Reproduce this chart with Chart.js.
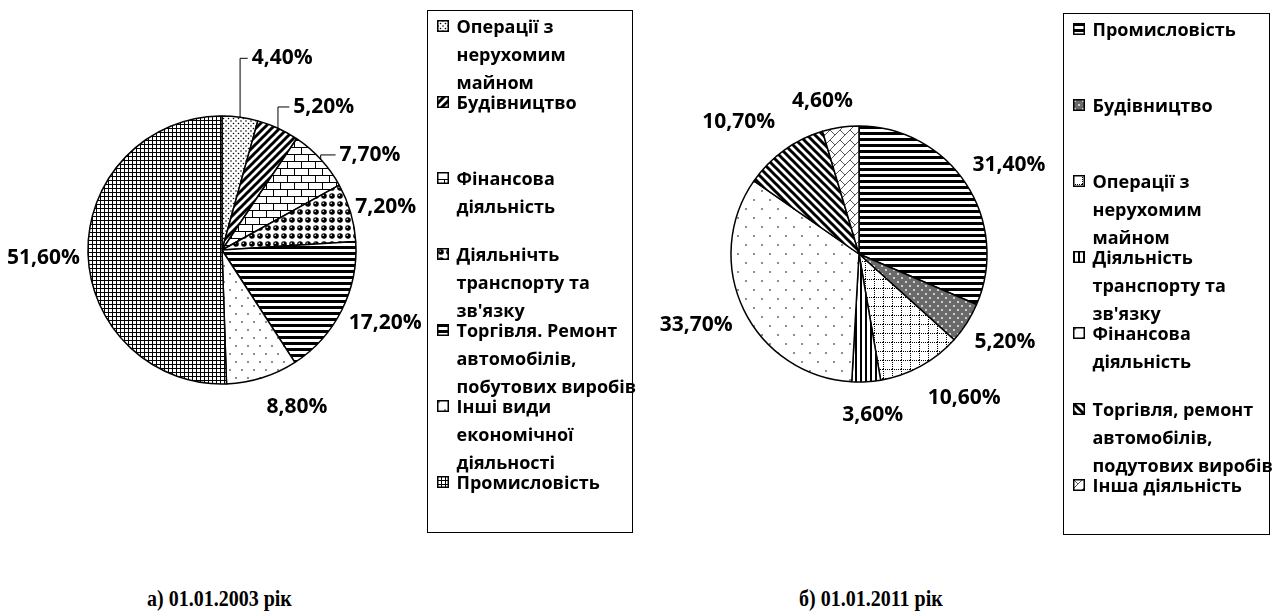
<!DOCTYPE html>
<html lang="uk">
<head>
<meta charset="utf-8">
<title>Структура за видами діяльності</title>
<script src="https://cdn.jsdelivr.net/npm/chart.js@4.4.1/dist/chart.umd.min.js"></script>
<style>
  html, body { margin: 0; padding: 0; background: #fff; }
  #page { position: relative; width: 1279px; height: 612px; overflow: hidden; font-family: "Open Sans", sans-serif; }
  .pie { position: absolute; top: 0; }
  .legend { position: absolute; border: 1.5px solid #000; box-sizing: border-box; }
  .item { position: absolute; left: 0; right: 0; font-weight: 700; font-size: 18px; line-height: 28px; white-space: nowrap; color: #000; }
  .item canvas { position: absolute; left: 8.5px; top: 8px; }
  .item .txt { position: absolute; left: 28.5px; top: 0; }
  .caption { position: absolute; font-family: "Liberation Serif", serif; font-weight: 700; font-size: 20px; line-height: 22px; transform: scaleY(1.12); transform-origin: left center; }
</style>
</head>
<body>
<div id="page">
  <canvas id="pie2003" class="pie" width="444" height="500" style="left:0"></canvas>
  <canvas id="pie2011" class="pie" width="438" height="508" style="left:640px"></canvas>
  <div id="legend2003" class="legend" style="left:427px; top:10px; width:206px; height:523px"></div>
  <div id="legend2011" class="legend" style="left:1063px; top:13px; width:207px; height:522px"></div>
  <div class="caption" style="left:147px; top:587px">а) 01.01.2003 рік</div>
  <div class="caption" style="left:799px; top:587px">б) 01.01.2011 рік</div>
</div>
<script>
// ==========================================
// 1. DATA
// ==========================================
// 01.01.2003 - slices clockwise from 12 o'clock
const labels2003 = [
    ['Операції з', 'нерухомим', 'майном'],
    ['Будівництво'],
    ['Фінансова', 'діяльність'],
    ['Діяльнічть', 'транспорту та', "зв'язку"],
    ['Торгівля. Ремонт', 'автомобілів,', 'побутових виробів'],
    ['Інші види', 'економічної', 'діяльності'],
    ['Промисловість']
];
const values2003 = [4.4, 5.2, 7.7, 7.2, 17.2, 8.8, 51.6];
const fills2003 = ['dots', 'wideUp', 'brick', 'spheres', 'wideHoriz', 'sparseDots', 'smallGrid'];

// 01.01.2011
const labels2011 = [
    ['Промисловість'],
    ['Будівництво'],
    ['Операції з', 'нерухомим', 'майном'],
    ['Діяльність', 'транспорту та', "зв'язку"],
    ['Фінансова', 'діяльність'],
    ['Торгівля, ремонт', 'автомобілів,', 'подутових виробів'],
    ['Інша діяльність']
];
const values2011 = [31.4, 5.2, 10.6, 3.6, 33.7, 10.7, 4.6];
const fills2011 = ['wideHoriz', 'darkDots', 'dottedGrid', 'vertLines', 'wideDots', 'wideDown', 'diagBrick'];

const fmt = v => v.toFixed(2).replace('.', ',') + '%';

// ==========================================
// 2. HATCH PATTERNS (Excel-like fills)
// ==========================================
function pattern(ctx, kind) {
    const sizes = {
        dots: [5, 5], wideUp: [8, 8], brick: [14, 14], spheres: [8, 8],
        wideHoriz: [2, 6], sparseDots: [12, 16], smallGrid: [4, 4],
        darkDots: [8, 8], dottedGrid: [9, 9], vertLines: [5, 2],
        wideDots: [16, 18], wideDown: [8, 8], diagBrick: [10, 10]
    };
    const [w, h] = sizes[kind];
    const c = document.createElement('canvas');
    c.width = w; c.height = h;
    const g = c.getContext('2d');
    g.fillStyle = '#fff';
    g.fillRect(0, 0, w, h);
    g.fillStyle = '#000';
    g.strokeStyle = '#000';
    const dot = (x, y, r) => { g.beginPath(); g.arc(x, y, r, 0, Math.PI * 2); g.fill(); };
    const line = (x1, y1, x2, y2) => { g.beginPath(); g.moveTo(x1, y1); g.lineTo(x2, y2); g.stroke(); };

    switch (kind) {
        case 'dots':
            dot(1, 1, 0.8); dot(3.5, 3.5, 0.8);
            break;
        case 'wideUp':
            g.lineWidth = 3;
            line(-2, 10, 10, -2); line(-6, 6, 6, -6); line(2, 14, 14, 2);
            break;
        case 'wideDown':
            g.lineWidth = 3;
            line(-2, -2, 10, 10); line(-6, 2, 6, 14); line(2, -6, 14, 6);
            break;
        case 'brick':
            g.lineWidth = 1;
            line(0, 0.5, 14, 0.5); line(0, 7.5, 14, 7.5);
            line(0.5, 0, 0.5, 7); line(7.5, 7, 7.5, 14);
            break;
        case 'spheres':
            dot(4, 4, 2.8);
            g.fillStyle = '#fff'; dot(3.2, 3.2, 0.8);
            break;
        case 'wideHoriz':
            g.fillRect(0, 0, w, 3);
            break;
        case 'sparseDots':
            dot(2, 2, 0.8); dot(8, 10, 0.8);
            break;
        case 'smallGrid':
            g.fillRect(0, 0, 1, h);
            g.fillRect(0, 0, w, 1);
            break;
        case 'darkDots':
            g.fillStyle = '#6a6a6a'; g.fillRect(0, 0, w, h);
            g.fillStyle = '#fff'; dot(2, 2, 0.9); dot(6, 6, 0.9);
            break;
        case 'dottedGrid':
            for (let i = 0; i < 9; i += 2) { g.fillRect(i, 0, 1, 1); g.fillRect(0, i, 1, 1); }
            break;
        case 'vertLines':
            g.fillRect(0, 0, 2, h);
            break;
        case 'wideDots':
            dot(2, 2, 0.8); dot(10, 11, 0.8);
            break;
        case 'diagBrick':
            g.strokeStyle = '#555'; g.lineWidth = 1;
            line(0, 10, 10, 0); line(0, 0, 5, 5); line(-5, 5, 5, -5); line(5, 15, 15, 5);
            break;
    }
    return ctx.createPattern(c, 'repeat');
}

// ==========================================
// 3. PERCENT LABELS PLUGIN
// ==========================================
const sliceLabels = {
    id: 'sliceLabels',
    afterDatasetsDraw(chart, args, opts) {
        const ctx = chart.ctx;
        const meta = chart.getDatasetMeta(0);
        const data = chart.data.datasets[0].data;
        ctx.save();
        ctx.font = opts.font;
        ctx.fillStyle = '#000';
        ctx.strokeStyle = '#000';
        ctx.lineWidth = 1;
        ctx.textBaseline = 'middle';
        meta.data.forEach((arc, i) => {
            const p = arc.getProps(['x', 'y', 'startAngle', 'endAngle', 'outerRadius'], true);
            const mid = (p.startAngle + p.endAngle) / 2;
            const cos = Math.cos(mid), sin = Math.sin(mid);
            const r = p.outerRadius + opts.gap;
            const [dx, dy] = opts.nudge[i];
            const tx = p.x + cos * r + dx;
            const ty = p.y + sin * r + dy;
            const text = fmt(data[i]);
            const w = ctx.measureText(text).width;
            const align = Math.abs(cos) < 0.25 ? 'center' : (cos > 0 ? 'left' : 'right');
            ctx.textAlign = align;
            ctx.fillText(text, tx, ty);

            // Excel-style leader: up from the rim, then across to the label
            if (opts.leader[i]) {
                const left = align === 'center' ? tx - w / 2 : (align === 'left' ? tx : tx - w);
                const ex = p.x + cos * p.outerRadius;
                const ey = p.y + sin * p.outerRadius;
                ctx.beginPath();
                ctx.moveTo(ex, ey);
                ctx.lineTo(ex, ty);
                ctx.lineTo(left - 4, ty);
                ctx.stroke();
            }
        });
        ctx.restore();
    }
};

// ==========================================
// 4. CHARTS & LEGENDS
// ==========================================
function makePie(id, values, labels, fills, radius, nudge, leader) {
    const ctx = document.getElementById(id).getContext('2d');
    return new Chart(ctx, {
        type: 'pie',
        data: {
            labels: labels,
            datasets: [{
                data: values,
                backgroundColor: fills.map(f => pattern(ctx, f)),
                borderColor: '#000',
                borderWidth: 1.5
            }]
        },
        options: {
            responsive: false,
            animation: false,
            events: [],
            radius: radius,
            layout: { padding: 0 },
            plugins: {
                legend: { display: false },
                tooltip: { enabled: false },
                sliceLabels: { font: 'bold 21px "Open Sans"', gap: 8, nudge: nudge, leader: leader }
            }
        },
        plugins: [sliceLabels]
    });
}

function buildLegend(boxId, labels, fills) {
    const box = document.getElementById(boxId);
    labels.forEach((lines, i) => {
        const item = document.createElement('div');
        item.className = 'item';
        item.style.top = (0.5 + i * 76) + 'px';

        const sw = document.createElement('canvas');
        sw.width = 12; sw.height = 12;
        const g = sw.getContext('2d');
        g.fillStyle = pattern(g, fills[i]);
        g.fillRect(0, 0, 12, 12);
        g.strokeStyle = '#000';
        g.lineWidth = 1.5;
        g.strokeRect(0.75, 0.75, 10.5, 10.5);

        const txt = document.createElement('div');
        txt.className = 'txt';
        lines.forEach(l => {
            const d = document.createElement('div');
            d.textContent = l;
            txt.appendChild(d);
        });
        item.appendChild(sw);
        item.appendChild(txt);
        box.appendChild(item);
    });
}

document.fonts.load('bold 21px "Open Sans"').then(() => {
    makePie('pie2003', values2003, labels2003, fills2003, 134,
        [[41, -51], [12, -14], [13, 1], [-3, -3], [0, 9], [2, 22], [0, 6]],
        [true, true, true, false, false, false, false]);
    makePie('pie2011', values2011, labels2011, fills2011, 128,
        [[0, -14], [1, 15], [3, 25], [6, 25], [-4, 11], [-4, -22], [-17, -18]],
        [false, false, false, false, false, false, false]);
    buildLegend('legend2003', labels2003, fills2003);
    buildLegend('legend2011', labels2011, fills2011);
});
</script>
</body>
</html>
